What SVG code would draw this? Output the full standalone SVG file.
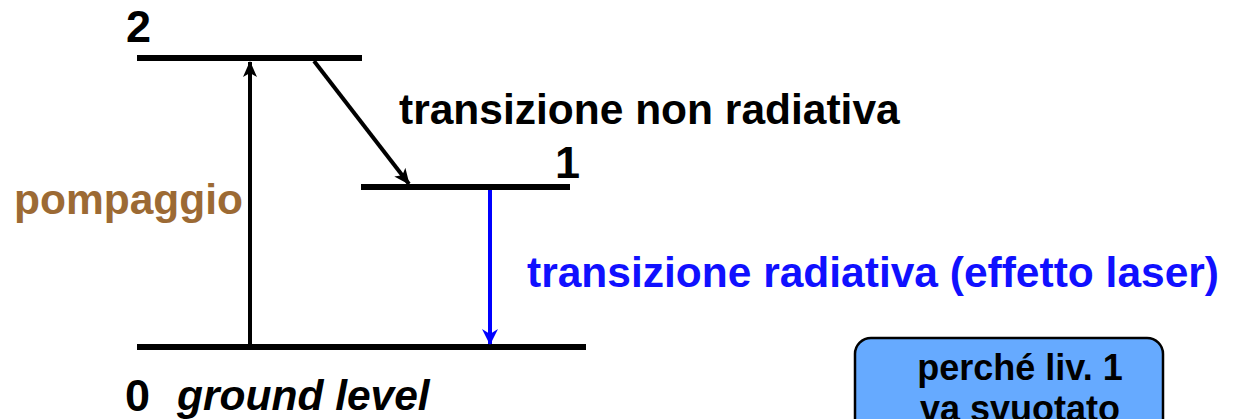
<svg xmlns="http://www.w3.org/2000/svg" width="1241" height="419" viewBox="0 0 1241 419">
<style>
text{font-family:"Liberation Sans",Arial,sans-serif;font-weight:bold;font-size:42.5px}
.lvl{stroke:#000;stroke-width:6}
.k{fill:#000}
.d{font-size:45px}
</style>
<defs>
<marker id="ak" viewBox="0 0 16 16" refX="15" refY="8" markerWidth="16" markerHeight="16" markerUnits="userSpaceOnUse" orient="auto">
<path d="M0,1 L16,8 L0,15 L4,8 Z" fill="#000"/>
</marker>
<marker id="ab" viewBox="0 0 16 16" refX="15" refY="8" markerWidth="16" markerHeight="16" markerUnits="userSpaceOnUse" orient="auto">
<path d="M0,0 L16,8 L0,16 L5,8 Z" fill="#0000ff"/>
</marker>
</defs>
<g id="level2">
<line class="lvl" x1="137" y1="58" x2="362" y2="58"/>
<text x="126" y="42" class="k d">2</text>
</g>
<g id="level1">
<line class="lvl" x1="361" y1="187" x2="570" y2="187"/>
<text x="555" y="178" class="k d">1</text>
</g>
<g id="level0">
<line class="lvl" x1="137" y1="347" x2="586" y2="347"/>
<text x="125" y="411" class="k d">0</text>
<text x="177" y="410" class="k" font-style="italic">ground level</text>
</g>
<g id="connectors">
<line x1="250" y1="344" x2="250" y2="62" stroke="#000" stroke-width="4" marker-end="url(#ak)"/>
<line x1="314" y1="61" x2="409" y2="184" stroke="#000" stroke-width="4" marker-end="url(#ak)"/>
<line x1="490" y1="190" x2="490" y2="344" stroke="#0000ff" stroke-width="4" marker-end="url(#ab)"/>
</g>
<g id="labels">
<text x="399" y="124" class="k">transizione non radiativa</text>
<text x="14" y="214" fill="#9c6a34">pompaggio</text>
<text x="527" y="287" fill="#1010ff">transizione radiativa (effetto laser)</text>
</g>
<g id="note">
<rect x="855" y="338" width="308" height="120" rx="16" fill="#66aaff" stroke="#000" stroke-width="2.5"/>
<text x="1020" y="380" class="k" text-anchor="middle" style="font-size:36px">perché liv. 1</text>
<text x="1020" y="421" class="k" text-anchor="middle" style="font-size:36px">va svuotato</text>
</g>
</svg>
